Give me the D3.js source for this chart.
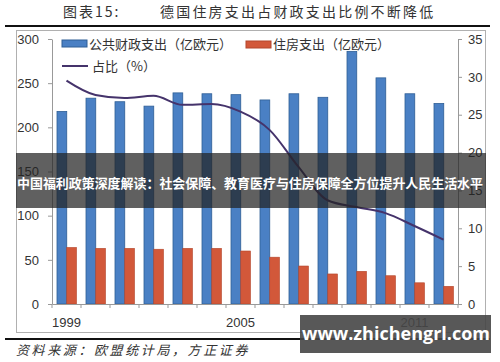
<!DOCTYPE html>
<html>
<head>
<meta charset="utf-8">
<script src="https://cdn.jsdelivr.net/npm/d3@7"></script>
<style>
  body { margin: 0; background: #fff; }
  svg { display: block; }
  .axis text { font-family: "Liberation Sans", Arial, sans-serif; font-size: 13px; fill: #333; }
  .axis path, .axis line { stroke: #999; }
</style>
</head>
<body>
<div class="graph"></div>
<script>
// data
const years = ["1999","2000","2001","2002","2003","2004","2005","2006","2007","2008","2009","2010","2011","2012"];
const publicSpend = [218,233,229,224,239,238,237,231,238,234,286,256,238,227];   // 公共财政支出（亿欧元）
const housingSpend = [64,63,63,62,63,63,60,53,43,34,37,32,24,20];                // 住房支出（亿欧元）
const housingShare = [29.5,27.6,27.2,27.5,26.3,26.4,25.4,23.0,18.1,13.7,12.8,12.0,10.3,8.5]; // 占比（%）
const leftTicks = [0,50,100,150,200,250,300];
const rightTicks = [0,5,10,15,20,25,30,35];
const shownYears = ["1999","2005","2011"];

const width = 500, height = 362;
const cjk = '"Noto Sans CJK SC", "Noto Sans", sans-serif';

let svg = d3.select(".graph").append("svg")
    .attr("width", width)
    .attr("height", height);

// title row
svg.append("text")
    .attr("x", 63).attr("y", 17)
    .attr("font-family", cjk).attr("font-size", 14)
    .attr("letter-spacing", 2).attr("fill", "#333")
    .text("图表15:");
svg.append("text")
    .attr("x", 160).attr("y", 17)
    .attr("font-family", cjk).attr("font-size", 14)
    .attr("letter-spacing", 2.2).attr("fill", "#333")
    .text("德国住房支出占财政支出比例不断降低");

svg.append("line").attr("x1", 5).attr("x2", 490).attr("y1", 26).attr("y2", 26)
    .attr("stroke", "#111").attr("stroke-width", 2);

// chart frame
svg.append("rect")
    .attr("x", 16.5).attr("y", 30.5).attr("width", 469).attr("height", 302)
    .attr("fill", "#fff").attr("stroke", "#b0b0b0");

// scales
let x = d3.scaleBand().domain(years).range([52, 458]);
let sub = d3.scaleBand().domain(["pub", "house"]).range([5, 24.5]);
let yL = d3.scaleLinear().domain([0, 300]).range([304, 39]);
let yR = d3.scaleLinear().domain([0, 35]).range([304, 39]);

// bars
let g = svg.append("g");
g.selectAll(".pub")
    .data(years)
    .enter().append("rect")
    .attr("class", "pub")
    .attr("x", (d) => x(d) + sub("pub"))
    .attr("width", sub.bandwidth())
    .attr("y", (d, i) => yL(publicSpend[i]))
    .attr("height", (d, i) => yL(0) - yL(publicSpend[i]))
    .attr("fill", "#4a80c4")
    .attr("stroke", "#2f5f96").attr("stroke-width", 0.8);

g.selectAll(".house")
    .data(years)
    .enter().append("rect")
    .attr("class", "house")
    .attr("x", (d) => x(d) + sub("house"))
    .attr("width", sub.bandwidth())
    .attr("y", (d, i) => yL(housingSpend[i]))
    .attr("height", (d, i) => yL(0) - yL(housingSpend[i]))
    .attr("fill", "#d2583a")
    .attr("stroke", "#b3462c").attr("stroke-width", 0.6);

// share line, smoothed but without overshoot
let line = d3.line()
    .x((d, i) => x(years[i]) + x.bandwidth() / 2)
    .y((d) => yR(d))
    .curve(d3.curveMonotoneX);

svg.append("path")
    .datum(housingShare)
    .attr("d", line)
    .attr("fill", "none")
    .attr("stroke", "#45336b")
    .attr("stroke-width", 2);

// axes
svg.append("g")
    .attr("class", "axis")
    .attr("transform", "translate(52,0)")
    .call(d3.axisLeft(yL).tickValues(leftTicks).tickSize(4).tickPadding(9).tickSizeOuter(0));

svg.append("g")
    .attr("class", "axis")
    .attr("transform", "translate(458,0)")
    .call(d3.axisRight(yR).tickValues(rightTicks).tickSize(4).tickPadding(6).tickSizeOuter(0));

let xAxis = svg.append("g")
    .attr("class", "axis")
    .attr("transform", "translate(0,304)")
    .call(d3.axisBottom(x).tickSize(0).tickPadding(14).tickSizeOuter(0)
        .tickFormat((d) => shownYears.includes(d) ? d : ""));

// tick marks between categories
xAxis.selectAll(".sep")
    .data(years.concat(["end"]))
    .enter().append("line")
    .attr("x1", (d) => d === "end" ? 458 : x(d))
    .attr("x2", (d) => d === "end" ? 458 : x(d))
    .attr("y1", 0).attr("y2", 4)
    .attr("stroke", "#999");

// legend
let legend = svg.append("g").attr("font-family", cjk).attr("font-size", 13).attr("fill", "#333");
legend.append("rect").attr("x", 62).attr("y", 40).attr("width", 25).attr("height", 7)
    .attr("fill", "#4a80c4").attr("stroke", "#2f5f96");
legend.append("text").attr("x", 89).attr("y", 48.5).text("公共财政支出（亿欧元）");
legend.append("rect").attr("x", 246).attr("y", 41).attr("width", 25).attr("height", 7)
    .attr("fill", "#d2583a").attr("stroke", "#b3462c");
legend.append("text").attr("x", 273).attr("y", 49).text("住房支出（亿欧元）");
legend.append("line").attr("x1", 62).attr("x2", 88).attr("y1", 66).attr("y2", 66)
    .attr("stroke", "#45336b").attr("stroke-width", 2);
legend.append("text").attr("x", 92).attr("y", 71).text("占比（%）");

// bottom rule and source
svg.append("line").attr("x1", 5).attr("x2", 490).attr("y1", 339).attr("y2", 339)
    .attr("stroke", "#111").attr("stroke-width", 2);
svg.append("text")
    .attr("x", 16).attr("y", 355)
    .attr("font-family", cjk).attr("font-size", 13)
    .attr("font-style", "italic").attr("letter-spacing", 2.6).attr("fill", "#333")
    .text("资料来源：欧盟统计局，方正证券");

// caption banner over the chart
svg.append("rect")
    .attr("x", 16).attr("y", 153).attr("width", 470).attr("height", 55)
    .attr("fill", "rgba(35,35,35,0.72)");
svg.append("text")
    .attr("x", 17).attr("y", 184)
    .attr("dominant-baseline", "middle")
    .attr("font-family", cjk).attr("font-size", 13).attr("font-weight", "bold")
    .attr("textLength", 466).attr("lengthAdjust", "spacingAndGlyphs")
    .attr("fill", "#fff")
    .text("中国福利政策深度解读：社会保障、教育医疗与住房保障全方位提升人民生活水平");

// watermark
svg.append("rect")
    .attr("x", 300).attr("y", 315).attr("width", 191).attr("height", 38)
    .attr("fill", "rgba(70,70,70,0.9)");
svg.append("text")
    .attr("x", 396).attr("y", 335)
    .attr("text-anchor", "middle").attr("dominant-baseline", "middle")
    .attr("font-family", '"Open Sans", "DejaVu Sans", sans-serif')
    .attr("font-size", 18).attr("font-weight", "bold").attr("fill", "#fff")
    .text("www.zhichengrl.com");
</script>
</body>
</html>
